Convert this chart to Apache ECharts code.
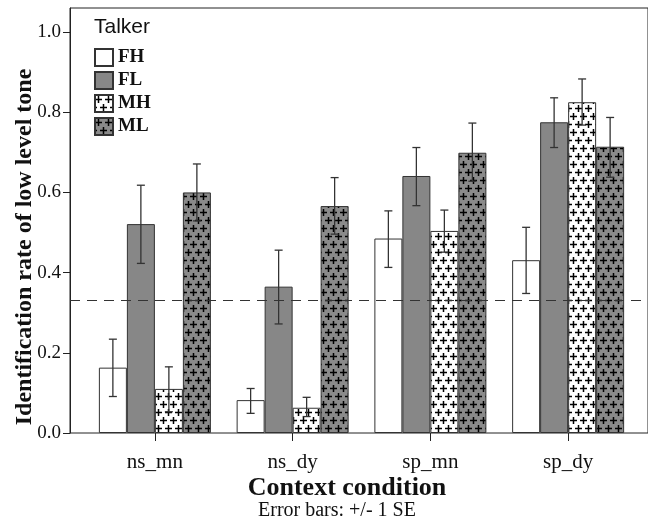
<!DOCTYPE html>
<html>
<head>
<meta charset="utf-8">
<script src="https://cdn.jsdelivr.net/npm/echarts@6/dist/echarts.min.js"></script>
<style>
html,body{margin:0;padding:0;background:#fff;}
#chart{width:648px;height:521px;}
</style>
</head>
<body>
<div id="chart"></div>
<script>
// 数据
var categories = ['ns_mn', 'ns_dy', 'sp_mn', 'sp_dy'];
var talkers = ['FH', 'FL', 'MH', 'ML'];
var yTicks = [0, 0.2, 0.4, 0.6, 0.8, 1.0];
var chanceLevel = 0.333;

var fhValues = [0.163, 0.082, 0.485, 0.431];
var flValues = [0.521, 0.365, 0.641, 0.775];
var mhValues = [0.110, 0.063, 0.504, 0.825];
var mlValues = [0.600, 0.566, 0.699, 0.714];

// 误差线 (+/- 1 SE): 下限 / 上限
var fhLow  = [0.091, 0.049, 0.413, 0.348];
var fhHigh = [0.234, 0.111, 0.554, 0.513];
var flLow  = [0.423, 0.272, 0.567, 0.712];
var flHigh = [0.618, 0.456, 0.712, 0.836];
var mhLow  = [0.053, 0.041, 0.451, 0.768];
var mhHigh = [0.165, 0.089, 0.556, 0.883];
var mlLow  = [0.529, 0.496, 0.628, 0.638];
var mlHigh = [0.671, 0.637, 0.773, 0.787];

var serif = 'Liberation Serif';
var barW = 28;
var yMax = 1.06;

//十字填充图案
function plusPattern(bg){
	var w = 10, h = 16;
	var c = document.createElement('canvas');
	c.width = w; c.height = h;
	var ctx = c.getContext('2d');
	ctx.fillStyle = bg;
	ctx.fillRect(0, 0, w, h);
	ctx.strokeStyle = '#000';
	ctx.lineWidth = 1.5;
	var centers = [[3.5, 4.5], [8.5, 12.5]];
	ctx.beginPath();
	for (var i = 0; i < centers.length; i++) {
		for (var dx = -w; dx <= w; dx += w) {
			for (var dy = -h; dy <= h; dy += h) {
				var cx = centers[i][0] + dx, cy = centers[i][1] + dy;
				ctx.moveTo(cx - 3.5, cy); ctx.lineTo(cx + 3.5, cy);
				ctx.moveTo(cx, cy - 3.5); ctx.lineTo(cx, cy + 3.5);
			}
		}
	}
	ctx.stroke();
	return {image: c, repeat: 'repeat'};
}

var fills = ['#ffffff', '#878787', plusPattern('#ffffff'), plusPattern('#8a8a8a')];
var values = [fhValues, flValues, mhValues, mlValues];
var lows = [fhLow, flLow, mhLow, mlLow];
var highs = [fhHigh, flHigh, mhHigh, mlHigh];

var series = [];
for (var k = 0; k < talkers.length; k++) {
	series.push({
		name: talkers[k],
		type: 'bar',
		xAxisIndex: 0,
		yAxisIndex: 0,
		barWidth: barW,
		barGap: '0%',
		itemStyle: {color: fills[k], borderColor: '#333', borderWidth: 1},
		data: values[k],
		z: 2
	});
}

var errData = [];
for (var k = 0; k < talkers.length; k++) {
	for (var i = 0; i < categories.length; i++) {
		errData.push([i, lows[k][i], highs[k][i], k]);
	}
}
series.push({
	type: 'custom',
	xAxisIndex: 0,
	yAxisIndex: 0,
	silent: true,
	z: 5,
	encode: {x: 0, y: [1, 2]},
	data: errData,
	renderItem: function(params, api){
		var top = api.coord([api.value(0), api.value(2)]);
		var bot = api.coord([api.value(0), api.value(1)]);
		var x = top[0] + (api.value(3) - 1.5) * barW;
		var style = {stroke: '#333', lineWidth: 1.3};
		return {
			type: 'group',
			children: [
				{type: 'line', shape: {x1: x, y1: top[1], x2: x, y2: bot[1]}, style: style},
				{type: 'line', shape: {x1: x - 4, y1: top[1], x2: x + 4, y2: top[1]}, style: style},
				{type: 'line', shape: {x1: x - 4, y1: bot[1], x2: x + 4, y2: bot[1]}, style: style}
			]
		};
	}
});

//机会水平虚线
series.push({
	type: 'line',
	xAxisIndex: 1,
	yAxisIndex: 1,
	data: [],
	markLine: {
		silent: true,
		symbol: 'none',
		label: {show: false},
		lineStyle: {color: '#333', type: [10, 7], width: 1.2},
		data: [{yAxis: chanceLevel}]
	}
});

var option = {
	animation: false,
	title: {
		text: 'Talker',
		left: 94,
		top: 17,
		padding: 0,
		textStyle: {fontFamily: 'Liberation Sans', fontSize: 21, fontWeight: 'normal', color: '#111'}
	},
	legend: {
		data: talkers,
		orient: 'vertical',
		left: 94,
		top: 48,
		padding: 0,
		icon: 'rect',
		itemWidth: 18,
		itemHeight: 17,
		itemGap: 4,
		textStyle: {fontFamily: serif, fontWeight: 'bold', fontSize: 19, color: '#111', lineHeight: 17}
	},
	grid: [
		{left: 86, right: 11, top: 8, bottom: 88},
		{left: 70, width: 620, top: 8, bottom: 88, show: true, borderColor: '#222', borderWidth: 1, backgroundColor: 'transparent'}
	],
	xAxis: [
		{
			gridIndex: 0,
			type: 'category',
			data: categories,
			axisLine: {show: false},
			axisTick: {show: true, alignWithLabel: true, length: 8, lineStyle: {color: '#222'}},
			axisLabel: {margin: 19, fontFamily: serif, fontSize: 21, color: '#111'}
		},
		{gridIndex: 1, type: 'value', min: 0, max: 1, show: false}
	],
	yAxis: [
		{gridIndex: 0, type: 'value', min: 0, max: yMax, show: false},
		{
			gridIndex: 1,
			type: 'value',
			min: 0,
			max: yMax,
			splitLine: {show: false},
			axisLine: {show: true, lineStyle: {color: '#222'}},
			axisTick: {show: true, length: 7, customValues: yTicks, lineStyle: {color: '#222'}},
			axisLabel: {
				margin: 9,
				customValues: yTicks,
				fontFamily: serif,
				fontSize: 19,
				color: '#111',
				formatter: function(v){ return v.toFixed(1); }
			}
		}
	],
	graphic: [
		{
			type: 'text',
			x: 25,
			y: 247,
			rotation: Math.PI / 2,
			style: {
				text: 'Identification rate of low level tone',
				fontFamily: serif,
				fontWeight: 'bold',
				fontSize: 24,
				fill: '#111',
				align: 'center',
				verticalAlign: 'middle'
			}
		},
		{
			type: 'text',
			x: 347,
			y: 488,
			style: {
				text: 'Context condition',
				fontFamily: serif,
				fontWeight: 'bold',
				fontSize: 26,
				fill: '#111',
				align: 'center',
				verticalAlign: 'middle'
			}
		},
		{
			type: 'text',
			x: 258,
			y: 511,
			style: {
				text: 'Error bars: +/- 1 SE',
				fontFamily: serif,
				fontSize: 20,
				fill: '#111',
				align: 'left',
				verticalAlign: 'middle'
			}
		}
	],
	series: series
};

var myChart = echarts.init(document.getElementById('chart'));
myChart.setOption(option);
</script>
</body>
</html>
